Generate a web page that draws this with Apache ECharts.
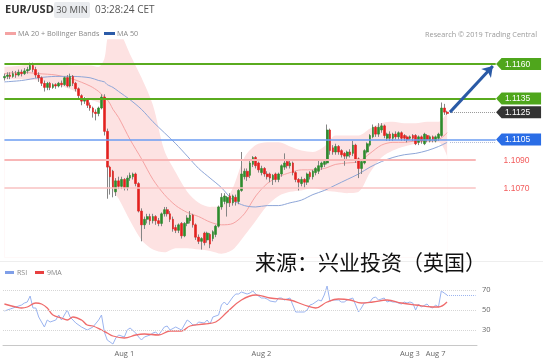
<!DOCTYPE html>
<html><head><meta charset="utf-8">
<script src="https://cdn.jsdelivr.net/npm/echarts/dist/echarts.min.js"></script>
<style>html,body{margin:0;padding:0;background:#fff}#c{width:543px;height:361px}</style>
</head><body><div id="c"></div>
<script>
// ---- candle data (30 min EUR/USD) ----
const openP = [1.1150,1.1151,1.1152,1.1151,1.1153,1.1152,1.1154,1.1153,1.1155,1.1156,
1.1159,1.1156,1.1152,1.1150,1.1146,1.1143,1.1146,1.1143,1.1145,1.1144,
1.1146,1.1145,1.1150,1.1144,1.1151,1.1146,1.1142,1.1137,1.1133,1.1134,
1.1130,1.1128,1.1125,1.1124,1.1128,1.1136,1.1111,1.1085,1.1082,1.1067,
1.1075,1.1071,1.1076,1.1070,1.1077,1.1078,1.1080,1.1073,1.1053,1.1043,
1.1047,1.1049,1.1046,1.1049,1.1046,1.1044,1.1051,1.1054,1.1051,1.1047,
1.1041,1.1039,1.1044,1.1035,1.1044,1.1046,1.1050,1.1043,1.1034,1.1031,
1.1037,1.1032,1.1036,1.1033,1.1036,1.1042,1.1056,1.1060,1.1059,1.1064,
1.1059,1.1063,1.1060,1.1068,1.1078,1.1082,1.1079,1.1087,1.1092,1.1088,
1.1081,1.1084,1.1080,1.1080,1.1076,1.1080,1.1076,1.1080,1.1085,1.1089,
1.1086,1.1088,1.1081,1.1076,1.1073,1.1076,1.1074,1.1081,1.1078,1.1081,
1.1082,1.1085,1.1087,1.1088,1.1112,1.1099,1.1096,1.1100,1.1097,1.1095,
1.1093,1.1096,1.1095,1.1101,1.1091,1.1084,1.1088,1.1096,1.1101,1.1107,
1.1114,1.1109,1.1112,1.1115,1.1106,1.1109,1.1106,1.1109,1.1107,1.1110,
1.1108,1.1107,1.1106,1.1108,1.1108,1.1103,1.1107,1.1102,1.1108,1.1104,
1.1107,1.1104,1.1106,1.1108,1.1128,1.1125];
const closeP = [1.1151,1.1152,1.1151,1.1153,1.1152,1.1154,1.1153,1.1155,1.1156,1.1159,
1.1156,1.1152,1.1150,1.1146,1.1143,1.1146,1.1143,1.1145,1.1144,1.1146,
1.1145,1.1150,1.1144,1.1151,1.1146,1.1142,1.1137,1.1133,1.1134,1.1130,
1.1128,1.1125,1.1124,1.1128,1.1136,1.1111,1.1085,1.1078,1.1070,1.1075,
1.1071,1.1076,1.1070,1.1077,1.1079,1.1080,1.1073,1.1053,1.1043,1.1047,
1.1049,1.1046,1.1049,1.1046,1.1044,1.1051,1.1054,1.1051,1.1047,1.1040,
1.1039,1.1043,1.1035,1.1044,1.1048,1.1050,1.1043,1.1034,1.1031,1.1033,
1.1030,1.1037,1.1029,1.1038,1.1042,1.1056,1.1063,1.1064,1.1063,1.1059,
1.1064,1.1060,1.1068,1.1080,1.1082,1.1078,1.1088,1.1092,1.1086,1.1083,
1.1084,1.1080,1.1078,1.1077,1.1079,1.1076,1.1080,1.1086,1.1088,1.1086,
1.1088,1.1081,1.1076,1.1074,1.1076,1.1074,1.1080,1.1078,1.1082,1.1084,
1.1086,1.1088,1.1089,1.1112,1.1097,1.1096,1.1100,1.1096,1.1094,1.1093,
1.1096,1.1094,1.1101,1.1090,1.1084,1.1089,1.1097,1.1102,1.1108,1.1114,
1.1109,1.1114,1.1115,1.1108,1.1109,1.1106,1.1109,1.1107,1.1110,1.1106,
1.1106,1.1105,1.1107,1.1106,1.1102,1.1107,1.1104,1.1109,1.1105,1.1107,
1.1105,1.1107,1.1109,1.1128,1.1125,1.1124];
const lowP = [1.1148,1.1149,1.1149,1.1150,1.1150,1.1151,1.1151,1.1152,1.1153,1.1155,
1.1154,1.1150,1.1147,1.1144,1.1140,1.1141,1.1141,1.1142,1.1142,1.1143,
1.1143,1.1144,1.1143,1.1143,1.1144,1.1140,1.1135,1.1130,1.1131,1.1128,
1.1126,1.1121,1.1119,1.1122,1.1127,1.1108,1.1062,1.1065,1.1063,1.1064,
1.1069,1.1069,1.1068,1.1068,1.1075,1.1076,1.1071,1.1052,1.1031,1.1040,
1.1044,1.1043,1.1044,1.1043,1.1042,1.1042,1.1049,1.1049,1.1045,1.1038,
1.1037,1.1037,1.1033,1.1034,1.1042,1.1044,1.1041,1.1032,1.1029,1.1025,
1.1028,1.1030,1.1026,1.1031,1.1034,1.1041,1.1054,1.1058,1.1049,1.1056,
1.1057,1.1057,1.1058,1.1067,1.1076,1.1075,1.1077,1.1085,1.1084,1.1081,
1.1079,1.1078,1.1076,1.1074,1.1072,1.1074,1.1074,1.1078,1.1083,1.1084,
1.1084,1.1079,1.1074,1.1068,1.1071,1.1070,1.1072,1.1076,1.1076,1.1079,
1.1080,1.1083,1.1085,1.1087,1.1094,1.1094,1.1094,1.1094,1.1092,1.1086,
1.1091,1.1092,1.1093,1.1088,1.1077,1.1080,1.1087,1.1095,1.1100,1.1106,
1.1107,1.1107,1.1110,1.1106,1.1104,1.1104,1.1104,1.1105,1.1105,1.1104,
1.1104,1.1103,1.1105,1.1104,1.1101,1.1101,1.1102,1.1101,1.1103,1.1103,
1.1103,1.1103,1.1104,1.1107,1.1123,1.1123];
const highP = [1.1153,1.1154,1.1154,1.1155,1.1155,1.1156,1.1156,1.1157,1.1158,1.1161,
1.1161,1.1158,1.1154,1.1151,1.1148,1.1147,1.1147,1.1146,1.1146,1.1147,
1.1148,1.1151,1.1152,1.1153,1.1152,1.1147,1.1143,1.1138,1.1136,1.1135,
1.1132,1.1129,1.1127,1.1129,1.1138,1.1138,1.1113,1.1086,1.1083,1.1077,
1.1078,1.1078,1.1077,1.1079,1.1081,1.1081,1.1081,1.1074,1.1055,1.1049,
1.1051,1.1051,1.1051,1.1050,1.1048,1.1052,1.1056,1.1056,1.1053,1.1049,
1.1043,1.1044,1.1045,1.1045,1.1050,1.1053,1.1051,1.1044,1.1036,1.1034,
1.1038,1.1038,1.1037,1.1039,1.1043,1.1057,1.1066,1.1066,1.1064,1.1066,
1.1065,1.1065,1.1069,1.1096,1.1084,1.1084,1.1090,1.1093,1.1093,1.1089,
1.1086,1.1085,1.1082,1.1081,1.1080,1.1081,1.1081,1.1087,1.1095,1.1090,
1.1090,1.1089,1.1082,1.1077,1.1078,1.1077,1.1081,1.1082,1.1083,1.1085,
1.1090,1.1089,1.1090,1.1116,1.1113,1.1101,1.1102,1.1101,1.1098,1.1096,
1.1097,1.1098,1.1104,1.1102,1.1092,1.1090,1.1098,1.1103,1.1109,1.1116,
1.1115,1.1117,1.1117,1.1116,1.1110,1.1111,1.1110,1.1111,1.1111,1.1111,
1.1109,1.1108,1.1108,1.1109,1.1109,1.1108,1.1108,1.1110,1.1109,1.1108,
1.1108,1.1108,1.1110,1.1132,1.1131,1.1126];

// ---- indicator readings (candle index -> value) ----
const lineIdx = [0,6,12,18,24,30,33,35,36,37,38,40,44,48,52,56,60,64,68,72,76,80,84,88,92,96,100,104,108,112,116,120,124,128,132,136,140,144,148,152,155];
const bbUpper = [1.1158,1.1159,1.1161,1.1160,1.1159,1.1159,1.1158,1.1164,1.1178,1.1183,1.1186,1.1185,1.1167,1.1150,1.1130,1.1097,1.1081,1.1067,1.1059,1.1056,1.1057,1.1070,1.1092,1.1101,1.1103,1.1103,1.1100,1.1097,1.1096,1.1100,1.1108,1.1108,1.1108,1.1113,1.1117,1.1118,1.1117,1.1117,1.1118,1.1118,1.1125];
const bbLower = [1.1149,1.1149,1.1148,1.1145,1.1141,1.1134,1.1132,1.1128,1.1097,1.1079,1.1068,1.1062,1.1046,1.1032,1.1025,1.1023,1.1026,1.1026,1.1025,1.1024,1.1022,1.1025,1.1035,1.1046,1.1057,1.1064,1.1067,1.1068,1.1070,1.1068,1.1067,1.1066,1.1067,1.1081,1.1092,1.1097,1.1100,1.1102,1.1103,1.1103,1.1093];
const ma20 = [1.1153,1.1154,1.1153,1.1152,1.1149,1.1144,1.1140,1.1136,1.1134,1.1131,1.1127,1.1121,1.1105,1.1091,1.1076,1.1065,1.1057,1.1052,1.1049,1.1045,1.1043,1.1044,1.1051,1.1064,1.1073,1.1078,1.1081,1.1083,1.1083,1.1084,1.1087,1.1088,1.1089,1.1095,1.1101,1.1103,1.1103,1.1104,1.1104,1.1105,1.1110];
const ma50 = [1.1147,1.1148,1.1150,1.1151,1.1151,1.1150,1.1148,1.1147,1.1145,1.1144,1.1143,1.1140,1.1134,1.1127,1.1118,1.1110,1.1102,1.1093,1.1084,1.1077,1.1070,1.1061,1.1057,1.1056,1.1057,1.1057,1.1059,1.1061,1.1065,1.1068,1.1072,1.1076,1.1080,1.1085,1.1089,1.1092,1.1094,1.1095,1.1097,1.1100,1.1103];

const rsiIdx = [0,2,4,6,7,8,9,10,11,12,14,15,16,18,19,20,22,23,24,25,27,29,31,33,34,35,36,37,38,39,40,42,43,44,46,47,48,49,51,52,53,54,56,57,58,60,62,64,65,66,67,68,70,71,72,73,75,76,77,78,80,81,82,83,85,86,87,88,90,91,92,93,95,96,97,98,100,101,102,103,105,106,107,108,110,111,112,113,114,115,117,118,119,120,122,123,124,125,126,128,129,130,131,133,134,135,136,137,139,140,141,142,143,144,145,146,148,149,150,151,152,153,154,155];
const rsiVal = [49,51,53,55,57,58,64,52,52,43,33,40,38,40,45,40,50,43,40,37,33,30,33,40,45,28,20,18,16,22,25,23,30,32,27,23,20,23,25,27,28,25,33,34,30,33,30,40,38,35,35,38,37,40,36,43,45,55,58,55,63,66,66,68,66,67,69,66,62,62,61,59,58,62,62,60,62,55,48,48,48,50,55,56,60,59,65,74,59,60,60,58,58,60,62,55,48,52,57,58,62,63,60,62,58,59,58,58,56,58,57,58,57,50,56,53,56,53,52,55,53,69,67,65];
const ma9Idx = [0,4,6,8,11,13,15,17,20,22,24,27,29,31,34,36,38,42,46,49,54,58,62,65,70,74,78,83,88,93,100,105,109,113,117,121,125,129,134,139,144,150,152,155];
const ma9Val = [56,53,52,53,57,56,52,45,42,40,43,40,35,34,30,27,24,22,25,26,25,29,29,34,36,38,48,60,65,62,60,55,52,58,61,60,57,58,60,57,55,53,53,58];

// ---- levels & labels ----
const levelResist = [1.1160, 1.1135];
const levelPivot = 1.1105;
const levelSupport = [1.1090, 1.1070];
const lastPrice = 1.1125;
const ma50Last = 1.1103;
const rsiLast = 65;
const rsiGridVals = [30, 50, 70];
const xLabelIdx = [42, 90, 142, 151];
const xLabelText = ['Aug 1', 'Aug 2', 'Aug 3', 'Aug 7'];

const N_MAIN = 188, N_RSI = 166;
const mainCats = Array.from({length: N_MAIN}, (_, i) => String(i));
const rsiCats = Array.from({length: N_RSI}, () => '');
xLabelIdx.forEach((k, j) => { rsiCats[k] = xLabelText[j]; });
const pairs = (idx, vals) => idx.map((k, j) => [k, vals[j]]);

const wickData = openP.map((o, i) => [o, closeP[i], lowP[i], highP[i]]);
const bodyData = openP.map((o, i) => [o, closeP[i], Math.min(o, closeP[i]), Math.max(o, closeP[i])]);

const END = 172, TAGX = 180, FIRST = 0, LASTI = openP.length - 1;
const TAG = 'path://M0,6L5.5,0L45,0L45,12L5.5,12Z';
const F = 'Liberation Sans';
function tag(v, color) {
  return {coord: [TAGX, v], symbol: TAG, symbolSize: [45, 12], itemStyle: {color},
    label: {show: true, position: 'inside', formatter: v.toFixed(4), color: '#fff', fontSize: 8.5, fontFamily: F, offset: [-1, 0.5]}};
}
function redLabel(v) {
  return {coord: [TAGX, v], symbol: 'rect', symbolSize: [1, 1], itemStyle: {color: 'rgba(0,0,0,0)'},
    label: {show: true, position: 'inside', formatter: v.toFixed(4), color: '#f25c5c', fontSize: 8.5, fontFamily: F, offset: [-2, 0.5]}};
}
function hline(v, end, style) {
  return [{coord: [FIRST, v], lineStyle: style}, {coord: [end, v]}];
}

const chart = echarts.init(document.getElementById('c'), null, {renderer: 'canvas', width: 543, height: 361});
chart.setOption({
  animation: false,
  backgroundColor: '#fff',
  textStyle: {fontFamily: F},
  grid: [
    {left: 3, top: 39.3, width: 537, height: 218.5},
    {left: 3, top: 265, width: 474, height: 80}
  ],
  xAxis: [
    {type: 'category', gridIndex: 0, data: mainCats, boundaryGap: true, show: false},
    {type: 'category', gridIndex: 1, data: rsiCats, boundaryGap: true,
      axisLine: {show: true, lineStyle: {color: '#c8c8c8'}}, axisTick: {show: false},
      axisLabel: {interval: 0, fontSize: 7.5, color: '#666', margin: 5, fontFamily: 'Open Sans'}}
  ],
  yAxis: [
    {type: 'value', gridIndex: 0, min: 1.1019, max: 1.1178, show: false, splitLine: {show: false}},
    {type: 'value', gridIndex: 1, min: 15, max: 95, interval: 5, position: 'right',
      axisLine: {show: false}, axisTick: {show: false}, splitLine: {show: false},
      axisLabel: {margin: 5, fontSize: 7.5, color: '#666', fontFamily: 'Open Sans',
        formatter: v => rsiGridVals.indexOf(v) >= 0 ? String(v) : ''}}
  ],
  graphic: [
    {type: 'text', x: 5, y: 10, silent: true, style: {text: 'EUR/USD', font: 'bold 11px "Open Sans"', fill: '#333', verticalAlign: 'middle'}},
    {type: 'rect', silent: true, shape: {x: 54, y: 2, width: 36, height: 16, r: 2}, style: {fill: '#e9ebee'}},
    {type: 'text', x: 72, y: 10, silent: true, style: {text: '30 MIN', font: '9.5px "Open Sans"', fill: '#555', align: 'center', verticalAlign: 'middle'}},
    {type: 'text', x: 95, y: 10, silent: true, style: {text: '03:28:24 CET', font: '10px "Open Sans"', fill: '#555', verticalAlign: 'middle'}},
    {type: 'rect', silent: true, shape: {x: 5, y: 32, width: 11, height: 3}, style: {fill: '#f4a3a3'}},
    {type: 'text', x: 18, y: 33.5, silent: true, style: {text: 'MA 20 + Bollinger Bands', font: '7.2px "Open Sans"', fill: '#888', verticalAlign: 'middle'}},
    {type: 'rect', silent: true, shape: {x: 104, y: 32, width: 11, height: 3}, style: {fill: '#2b5ba8'}},
    {type: 'text', x: 117, y: 33.5, silent: true, style: {text: 'MA 50', font: '7.2px "Open Sans"', fill: '#888', verticalAlign: 'middle'}},
    {type: 'text', x: 537, y: 34.5, silent: true, style: {text: 'Research \u00a9 2019 Trading Central', font: '7.3px "Open Sans"', fill: '#9a9a9a', align: 'right', verticalAlign: 'middle'}},
    {type: 'line', silent: true, shape: {x1: 0, y1: 261.5, x2: 543, y2: 261.5}, style: {stroke: '#eeeeee', lineWidth: 1}},
    {type: 'rect', silent: true, shape: {x: 5, y: 271, width: 9, height: 3}, style: {fill: '#7f9fe8'}},
    {type: 'text', x: 17, y: 272.5, silent: true, style: {text: 'RSI', font: '7px "Open Sans"', fill: '#888', verticalAlign: 'middle'}},
    {type: 'rect', silent: true, shape: {x: 35, y: 271, width: 9, height: 3}, style: {fill: '#e84040'}},
    {type: 'text', x: 47, y: 272.5, silent: true, style: {text: '9MA', font: '7px "Open Sans"', fill: '#888', verticalAlign: 'middle'}},
    {type: 'text', x: 255, y: 262, z: 100, silent: true, style: {text: '来源：兴业投资（英国）', font: '21px "Noto Sans CJK SC"', fill: '#111', verticalAlign: 'middle'}}
  ],
  series: [
    {name: 'bbUpper', type: 'line', xAxisIndex: 0, yAxisIndex: 0, data: pairs(lineIdx, bbUpper), symbol: 'none', smooth: 0.3,
      lineStyle: {width: 0}, areaStyle: {color: '#fde2e2', opacity: 1, origin: 'start'}, silent: true, z: 1},
    {name: 'bbLower', type: 'line', xAxisIndex: 0, yAxisIndex: 0, data: pairs(lineIdx, bbLower), symbol: 'none', smooth: 0.3,
      lineStyle: {width: 0}, areaStyle: {color: '#ffffff', opacity: 1, origin: 'start'}, silent: true, z: 1},
    {name: 'MA 20', type: 'line', xAxisIndex: 0, yAxisIndex: 0, data: pairs(lineIdx, ma20), symbol: 'none', smooth: 0.3,
      lineStyle: {color: '#f6a3a3', width: 1}, silent: true, z: 2,
      markLine: {silent: true, symbol: ['none', 'none'], label: {show: false}, animation: false,
        data: [
          hline(levelResist[0], END, {color: '#5aab1f', width: 2, type: 'solid'}),
          hline(levelResist[1], END, {color: '#5aab1f', width: 2, type: 'solid'}),
          hline(levelPivot, END, {color: '#6b9cf2', width: 1.5, type: 'solid'}),
          hline(levelSupport[0], 165, {color: '#f8b6b6', width: 2, type: 'solid'}),
          hline(levelSupport[1], 165, {color: '#f9c2c2', width: 1.5, type: 'solid'})
        ]}},
    {name: 'MA 50', type: 'line', xAxisIndex: 0, yAxisIndex: 0, data: pairs(lineIdx, ma50), symbol: 'none', smooth: 0.3,
      lineStyle: {color: '#8ea6d8', width: 1}, silent: true, z: 2},
    {name: 'wick', type: 'candlestick', xAxisIndex: 0, yAxisIndex: 0, data: wickData, barWidth: 1, silent: true, z: 3,
      itemStyle: {color: '#858585', color0: '#858585', borderColor: '#858585', borderColor0: '#858585', borderWidth: 1}},
    {name: 'EUR/USD', type: 'candlestick', xAxisIndex: 0, yAxisIndex: 0, data: bodyData, barWidth: 2.2, silent: true, z: 4,
      itemStyle: {color: '#2d8c2d', color0: '#e3211f', borderColor: '#2d8c2d', borderColor0: '#e3211f', borderWidth: 0.6},
      markLine: {silent: true, symbol: ['none', 'none'], label: {show: false}, animation: false,
        data: [
          [{coord: [LASTI + 1, lastPrice], lineStyle: {color: '#999', width: 1, type: 'dotted'}}, {coord: [END, lastPrice]}],
          [{coord: [LASTI + 1, ma50Last], lineStyle: {color: '#b3bdd6', width: 1, type: 'dotted'}}, {coord: [END, ma50Last]}],
          [{coord: [LASTI + 1, lastPrice], symbol: 'none', lineStyle: {color: '#2a5aa6', width: 3, type: 'solid'}},
           {coord: [END - 1, 1.11585], symbol: 'arrow', symbolSize: 10}]
        ]},
      markPoint: {silent: true, animation: false,
        data: [
          tag(levelResist[0], '#4fa61c'),
          tag(levelResist[1], '#4fa61c'),
          tag(lastPrice, '#333333'),
          tag(levelPivot, '#2a6de6'),
          redLabel(levelSupport[0]),
          redLabel(levelSupport[1])
        ]}},
    {name: 'RSI', type: 'line', xAxisIndex: 1, yAxisIndex: 1, data: pairs(rsiIdx, rsiVal), symbol: 'none',
      lineStyle: {color: '#9bb4ef', width: 1}, silent: true, z: 3,
      markLine: {silent: true, symbol: ['none', 'none'], label: {show: false}, animation: false,
        data: rsiGridVals.map(v => ({yAxis: v, lineStyle: {color: '#d6d6d6', width: 1, type: 'dotted'}})).concat([
          [{coord: [LASTI, rsiLast], lineStyle: {color: '#9bb4ef', width: 1, type: 'dotted'}}, {coord: [N_RSI - 1, rsiLast]}]
        ])}},
    {name: '9MA', type: 'line', xAxisIndex: 1, yAxisIndex: 1, data: pairs(ma9Idx, ma9Val), symbol: 'none', smooth: 0.4,
      lineStyle: {color: '#ef6b6b', width: 1.3}, silent: true, z: 4}
  ]
});
</script>
</body></html>
